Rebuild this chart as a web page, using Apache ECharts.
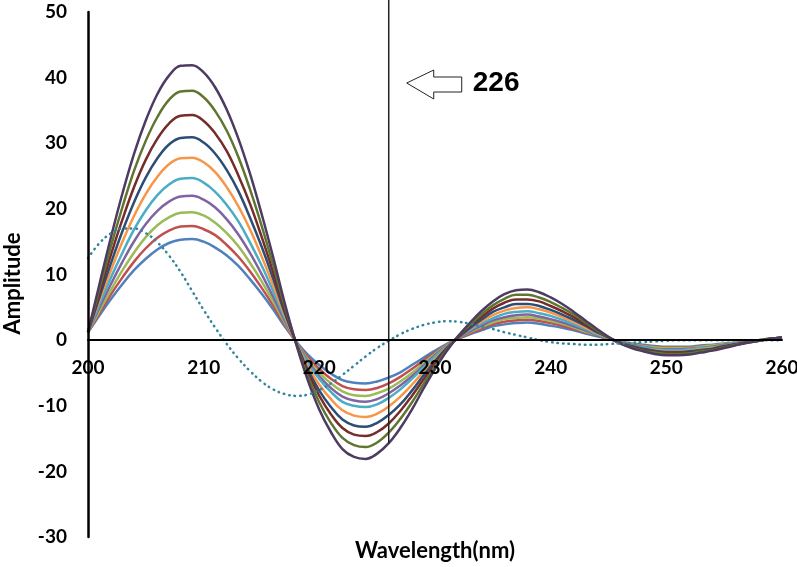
<!DOCTYPE html>
<html>
<head>
<meta charset="utf-8">
<script src="https://cdn.jsdelivr.net/npm/echarts@6/dist/echarts.min.js"></script>
<style>
  html, body { margin: 0; padding: 0; background: #fff; }
  #chart { width: 797px; height: 567px; }
</style>
</head>
<body>
<div id="chart"></div>
<script>
// wavelengths, 200..260 nm, one point per nm
var wavelength = [200,201,202,203,204,205,206,207,208,209,210,211,212,213,214,215,216,217,218,219,220,
  221,222,223,224,225,226,227,228,229,230,231,232,233,234,235,236,237,238,239,240,
  241,242,243,244,245,246,247,248,249,250,251,252,253,254,255,256,257,258,259,260];

var s1 = [1.2,3.8,6.3,8.6,10.7,12.4,13.8,14.8,15.3, 15.4,15.0,14.1,12.9,11.3,9.3,7.1,4.7,2.1,
  -0.2,-2.2,-3.8,-5.1,-6.1,-6.5,-6.6,-6.3,-5.7,-4.9,-3.8,-2.7,-1.6,-0.6,
  0.2,0.9,1.5,2.1,2.4,2.6,2.7,2.5,2.2,1.9,1.5,1.0,0.6,0.2,
  -0.2,-0.5,-0.7,-0.9,-1.0,-1.0,-1.0,-0.8,-0.7,-0.5,-0.4,-0.2,0.0, 0.2,0.3];
var s2 = [1.2,4.1,7.0,9.6,12.0,14.0,15.6,16.7,17.3, 17.4,16.9,16.0,14.5,12.7,10.5,8.0,5.3,2.4,
  -0.3,-2.6,-4.4,-5.9,-7.0,-7.5,-7.6,-7.3,-6.6,-5.6,-4.4,-3.1,-1.9,-0.7,
  0.2,1.0,1.7,2.4,2.8,3.0,3.1,2.9,2.6,2.2,1.7,1.2,0.7,0.2,
  -0.2,-0.6,-0.8,-1.0,-1.1,-1.1,-1.1,-0.9,-0.8,-0.6,-0.4,-0.2,0.0, 0.2,0.3];
var s3 = [1.2,4.5,7.7,10.7,13.4,15.7,17.5,18.7,19.4, 19.5,19.0,17.9,16.3,14.3,11.8,9.0,5.9,2.7,
  -0.3,-2.9,-5.0,-6.6,-7.8,-8.4,-8.5,-8.1,-7.4,-6.3,-5.0,-3.5,-2.1,-0.8,
  0.3,1.2,2.0,2.7,3.2,3.4,3.5,3.3,2.9,2.5,1.9,1.3,0.8,0.2,
  -0.3,-0.6,-0.9,-1.1,-1.2,-1.2,-1.2,-1.0,-0.8,-0.6,-0.4,-0.2,0.0, 0.2,0.3];
var s4 = [1.2,5.0,8.6,12.0,15.1,17.7,19.7,21.1,21.9, 22.0,21.4,20.2,18.4,16.1,13.3,10.1,6.6,3.0,
  -0.3,-3.2,-5.5,-7.3,-8.6,-9.2,-9.4,-9.0,-8.1,-6.9,-5.5,-3.9,-2.3,-0.9,
  0.3,1.3,2.2,3.0,3.5,3.8,3.9,3.6,3.2,2.7,2.1,1.5,0.8,0.2,
  -0.3,-0.7,-1.0,-1.3,-1.4,-1.4,-1.3,-1.2,-1.0,-0.7,-0.5,-0.2,-0.1, 0.2,0.3];
var s5 = [1.2,5.5,9.6,13.4,16.9,19.8,22.1,23.7,24.6, 24.7,24.0,22.6,20.6,18.1,14.9,11.4,7.5,3.4,
  -0.3,-3.5,-5.9,-7.9,-9.4,-10.0,-10.2,-9.8,-8.8,-7.5,-5.9,-4.2,-2.5,-1.0,
  0.4,1.5,2.5,3.3,4.0,4.3,4.4,4.1,3.7,3.1,2.4,1.7,0.9,0.3,
  -0.3,-0.8,-1.1,-1.4,-1.5,-1.5,-1.4,-1.2,-1.1,-0.8,-0.5,-0.3,-0.1, 0.2,0.4];
var s6 = [1.2,6.1,10.7,15.1,19.0,22.3,24.9,26.8,27.7, 27.8,27.1,25.6,23.3,20.4,16.9,12.8,8.4,3.8,
  -0.4,-4.0,-6.8,-9.0,-10.7,-11.5,-11.7,-11.2,-10.1,-8.6,-6.8,-4.8,-2.9,-1.1,
  0.4,1.7,2.8,3.8,4.5,4.9,5.0,4.7,4.2,3.5,2.8,1.9,1.1,0.3,
  -0.4,-0.9,-1.3,-1.5,-1.7,-1.7,-1.6,-1.4,-1.2,-0.9,-0.6,-0.3,-0.1, 0.2,0.4];
var s7 = [1.2,6.6,11.8,16.7,21.1,24.8,27.7,29.8,30.8, 30.9,30.1,28.4,25.9,22.7,18.7,14.3,9.4,4.2,
  -0.4,-4.5,-7.7,-10.2,-12.1,-13.0,-13.2,-12.6,-11.4,-9.8,-7.7,-5.4,-3.2,-1.2,
  0.4,1.8,3.1,4.3,5.0,5.5,5.5,5.2,4.6,3.9,3.1,2.2,1.2,0.4,
  -0.4,-0.9,-1.3,-1.6,-1.8,-1.8,-1.7,-1.5,-1.3,-0.9,-0.6,-0.3,-0.1, 0.2,0.4];
var s8 = [1.2,7.2,13.1,18.5,23.4,27.5,30.7,33.0,34.2, 34.3,33.4,31.5,28.8,25.1,20.8,15.8,10.4,4.7,
  -0.5,-4.9,-8.5,-11.3,-13.4,-14.4,-14.6,-14.0,-12.7,-10.8,-8.5,-6.0,-3.6,-1.4,
  0.5,2.1,3.5,4.8,5.7,6.2,6.2,5.9,5.2,4.4,3.5,2.4,1.4,0.4,
  -0.4,-1.0,-1.5,-1.8,-2.0,-2.0,-1.9,-1.7,-1.4,-1.0,-0.7,-0.3,-0.1, 0.2,0.4];
var s9 = [1.2,7.9,14.4,20.4,25.9,30.4,34.0,36.6,37.9, 38.0,37.0,34.9,31.9,27.9,23.0,17.5,11.5,5.2,
  -0.5,-5.5,-9.5,-12.6,-14.9,-16.0,-16.3,-15.6,-14.1,-12.0,-9.5,-6.7,-4.0,-1.5,
  0.6,2.3,3.9,5.3,6.3,6.9,6.9,6.5,5.8,4.9,3.9,2.7,1.5,0.4,
  -0.5,-1.1,-1.6,-1.9,-2.1,-2.1,-2.0,-1.7,-1.5,-1.1,-0.7,-0.4,-0.1, 0.2,0.4];
var s10 = [1.2,8.6,15.8,22.5,28.5,33.5,37.5,40.3,41.8, 41.9,40.8,38.5,35.1,30.7,25.4,19.3,12.7,5.7,
  -0.6,-6.1,-10.6,-14.0,-16.6,-17.8,-18.1,-17.3,-15.7,-13.4,-10.6,-7.4,-4.4,-1.7,
  0.6,2.6,4.4,5.9,7.0,7.6,7.7,7.3,6.5,5.5,4.3,3.0,1.7,0.5,
  -0.5,-1.2,-1.7,-2.1,-2.3,-2.3,-2.2,-1.9,-1.6,-1.2,-0.8,-0.4,-0.1, 0.2,0.4];
// dotted reference spectrum
var dotted = [12.5,14.8,16.3,17.0,17.0,16.3,14.9,12.9,10.4,7.5,4.6,1.9,-0.6,-2.8,-4.7,-6.3,-7.5,-8.2,
  -8.5,-8.3,-7.6,-6.6,-5.3,-3.9,-2.5,-1.2,-0.1,0.9,1.7,2.3,2.7,2.9,2.8,2.5,2.1,1.7,1.2,0.8,0.4,0.0,
  -0.3,-0.5,-0.6,-0.7,-0.7,-0.6,-0.5,-0.4,-0.3,-0.2,-0.1,0.0,0.0,0.0,0.0,0.0,0.0,0.0,0.0,0.0,0.0];

var solidSeries = [s1, s2, s3, s4, s5, s6, s7, s8, s9, s10];
var colors = ['#4F81BD','#C0504D','#9BBB59','#8064A2','#4BACC6','#F79646','#2C4D75','#772C2A','#5F7530','#4D3B62'];

var xTicks = [200, 260, 10];   // min, max, step
var yTicks = [-30, 50, 10];
var markWave = 226;

function pairs(ys) {
  return wavelength.map(function (x, i) { return [x, ys[i]]; });
}

var series = solidSeries.map(function (d, i) {
  return {
    type: 'line',
    data: pairs(d),
    smooth: 0.4,
    showSymbol: false,
    lineStyle: { width: 2.5, color: colors[i] },
    itemStyle: { color: colors[i] },
    z: 2 + i
  };
});
series.push({
  type: 'line',
  data: pairs(dotted),
  smooth: 0.4,
  showSymbol: false,
  lineStyle: { width: 2.5, color: '#31859C', type: [0.5, 5], cap: 'round' },
  z: 20
});

var labelFont = { color: '#000', fontWeight: 'bold', fontSize: 19, fontFamily: 'Lato' };
var nameFont = { color: '#000', fontWeight: 'bold', fontSize: 22, fontFamily: 'Lato' };

var gridTop = 12, gridBottom = 30, H = 567;
// x axis sits on y = 0: shift it up from the grid bottom
var zeroShift = (H - gridTop - gridBottom) * (0 - yTicks[0]) / (yTicks[1] - yTicks[0]);

var chart = echarts.init(document.getElementById('chart'));
chart.setOption({
  animation: false,
  grid: { left: 88, right: 15, top: gridTop, bottom: gridBottom, containLabel: false, outerBoundsMode: 'none' },
  xAxis: {
    type: 'value',
    z: 40,
    min: xTicks[0], max: xTicks[1], interval: xTicks[2],
    offset: -zeroShift,
    name: 'Wavelength(nm)',
    nameLocation: 'middle',
    nameGap: 200,
    nameTextStyle: nameFont,
    axisLine: { onZero: false, lineStyle: { color: '#000', width: 2 } },
    axisTick: { show: false },
    axisLabel: Object.assign({ margin: 18 }, labelFont),
    splitLine: { show: false }
  },
  yAxis: {
    type: 'value',
    z: 40,
    min: yTicks[0], max: yTicks[1], interval: yTicks[2],
    name: 'Amplitude',
    nameLocation: 'middle',
    nameGap: 64,
    nameTextStyle: Object.assign({ padding: [0, 18, 0, 0] }, nameFont),
    axisLine: { show: true, lineStyle: { color: '#000', width: 2.5 } },
    axisTick: { show: false },
    axisLabel: Object.assign({ margin: 21 }, labelFont),
    splitLine: { show: false }
  },
  series: series
});

// vertical marker at 226 nm, from the top down to the outermost curve
var lowest = s10[wavelength.indexOf(markWave)];
var pBottom = chart.convertToPixel({ gridIndex: 0 }, [markWave, lowest]);
var pTop = chart.convertToPixel({ gridIndex: 0 }, [markWave, yTicks[1]]);
var ax = pBottom[0] + 18, ay = pTop[1] + 71;
chart.setOption({
  graphic: [
    {
      type: 'line',
      shape: { x1: pBottom[0], y1: 0, x2: pBottom[0], y2: pBottom[1] },
      style: { stroke: '#222', lineWidth: 1.5 },
      z: 30
    },
    {
      type: 'polygon',
      shape: { points: [[ax, ay], [ax + 27, ay - 13], [ax + 27, ay - 6], [ax + 55, ay - 6],
                        [ax + 55, ay + 9], [ax + 27, ay + 9], [ax + 27, ay + 16]] },
      style: { fill: '#fff', stroke: '#222', lineWidth: 1 },
      z: 30
    },
    {
      type: 'text',
      x: ax + 66, y: ay,
      style: { text: String(markWave), font: 'bold 28px "Liberation Sans"', fill: '#000', verticalAlign: 'middle' },
      z: 30
    }
  ]
});
</script>
</body>
</html>
